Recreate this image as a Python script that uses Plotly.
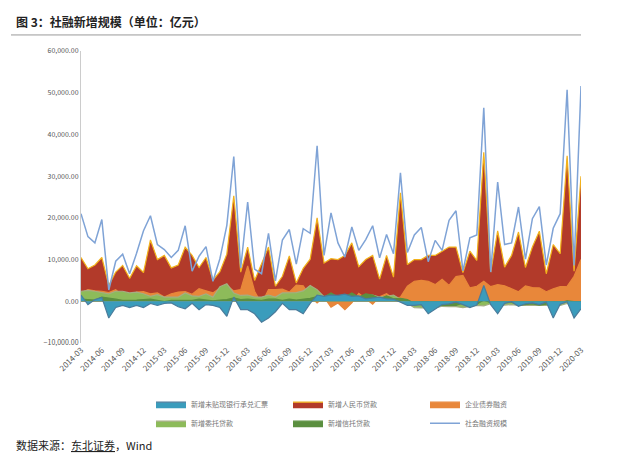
import plotly.graph_objects as go
import pandas as pd

months = [d.strftime("%Y-%m") for d in pd.date_range("2014-03-01", "2020-03-01", freq="MS")]
total = [21000,15500,14000,19600,2700,9600,11300,6600,11500,16900,
         20500,13600,12400,10500,12200,18100,7200,10800,13100,4800,10200,18200,
         34700,8000,23800,7700,6600,16300,4900,14700,17200,8900,17400,16300,
         37300,11000,21200,14000,10600,17800,12200,14800,18100,10400,16000,11400,
         30800,11700,15900,17700,9500,14600,12200,19400,21700,7300,15200,15900,
         46400,7000,28600,13600,14000,22600,10100,19800,22700,8700,17500,21000,
         50700,8600,51600]
loans = [10500,7800,8700,10500,3800,7000,8600,5500,8500,6900,
         14700,10000,11000,8000,8700,13000,11000,8100,10500,5100,7100,11300,
         25300,7000,13000,5000,9000,13000,3600,6000,10900,4400,7900,10100,
         20000,9200,10200,10000,11000,14000,8300,10000,11000,5300,11000,5800,
         26000,8800,10000,10000,11000,11000,12000,13000,13000,6900,12000,9800,
         35700,7000,16900,8200,11000,16600,8100,13000,16800,6600,13600,11400,
         34900,7200,30000]
bonds = [2000,2800,2500,2400,2100,2800,1300,1100,2200,2300,
         1800,2000,1000,1800,2200,2300,1700,3000,2500,2000,3200,3800,
         2500,2800,8500,2400,-600,2800,2800,2900,2200,3900,3700,1200,
         -400,1000,-1400,-400,-2000,-400,1900,500,-700,1100,1800,600,
         1000,3600,4800,5000,4800,4000,5300,3800,5900,6200,3200,3600,
         4800,3500,4000,3700,3000,2300,3700,3300,3200,2300,3000,3500,
         3600,6000,10000]
acceptance = [1500,-800,400,900,-4000,-1500,-1000,-1500,-1000,-1500,
              -500,-1000,-500,-400,-1300,-1800,-500,-2000,-800,-1000,-1500,-3600,
              1000,-2000,-2000,-3000,-5000,-4000,-2500,-500,-2000,-2000,-3000,-500,
              1500,1200,1500,1400,1700,1200,1300,600,800,1000,600,500,
              -200,-1000,-1000,-800,-3000,-2000,-800,-600,-200,-800,-1500,-900,
              3800,-800,-3000,-500,-100,-1200,-600,-400,-800,-200,-4000,-700,
              -100,-4000,-1800]
entrusted = [2400,2600,2400,2100,1800,2400,2400,2000,2200,1800,
             1200,1600,1000,1000,1000,2000,1300,1200,1800,1000,3500,4200,
             2000,1400,1500,1000,1000,1500,1000,2000,2000,2100,2500,3800,
             2800,1100,1700,1000,1500,1100,1000,1400,1500,1000,1200,1500,
             500,-600,-1500,-1600,-1500,-1600,-1200,-1300,-1300,-1500,-1200,-1000,
             -1100,-600,-800,-900,-800,-1000,-900,-1000,-1000,-1000,-1000,-1000,
             -500,-500,-600]
trust = [500,400,300,1000,800,500,200,200,300,400,
         500,200,-100,200,200,300,200,500,300,100,300,400,
         800,400,500,300,200,500,500,200,500,300,500,700,
         1100,1000,2000,1000,1000,2000,1000,1800,1500,600,1300,600,
         700,400,-500,-100,-100,-1000,-1000,-1000,-1000,-400,-500,-700,
         300,-400,-100,-200,-200,-900,-700,-600,-900,-700,-200,-300,
         100,-100,-100]

fig = go.Figure()
def area(y, name, fill, line, rank):
    fig.add_trace(go.Scatter(x=months, y=y, name=name, mode="lines", fill="tozeroy",
                             fillcolor=fill, line=dict(color=line, width=1.2), legendrank=rank))
area(loans, "新增人民币贷款", "#b23a2a", "#f2b21a", 2)
area(bonds, "企业债券融资", "#e8873a", "#e8873a", 3)
area(entrusted, "新增委托贷款", "#8dbb5a", "#a5ad82", 4)
area(trust, "新增信托贷款", "#5b8f3f", "#5b8f3f", 5)
area(acceptance, "新增未贴现银行承兑汇票", "#3a9cbc", "#4a7c9c", 1)
fig.add_trace(go.Scatter(x=months, y=total, name="社会融资规模", mode="lines",
                         line=dict(color="#7fa3d6", width=1.5), legendrank=6))

fig.update_layout(
    width=640, height=457, paper_bgcolor="white", plot_bgcolor="white",
    margin=dict(l=73, r=67, t=43, b=122, autoexpand=False),
    font=dict(family="Noto Sans CJK SC", size=9, color="#555"),
    xaxis=dict(type="category", tickvals=months[::3], tickangle=-45, tickfont=dict(size=8),
               showline=False, showgrid=False, ticks=""),
    yaxis=dict(range=[-10000, 60000], dtick=10000, tickformat=",.2f", tickfont=dict(size=7),
               showgrid=False, zeroline=True, zerolinecolor="#bbb", showline=True, linecolor="#ccc"),
    legend=dict(orientation="h", x=0.14, y=-0.16, xanchor="left", yanchor="top",
                entrywidth=92, font=dict(size=7, color="#777"), traceorder="normal"),
    showlegend=True,
)
fig.add_annotation(text="<b>图 3：社融新增规模（单位：亿元）</b>", xref="paper", yref="paper",
                   x=-0.135, y=1.10, xanchor="left", yanchor="middle", showarrow=False,
                   font=dict(size=12, color="#222", family="Noto Sans CJK SC"))
fig.add_shape(type="line", xref="paper", yref="paper", x0=-0.14, x1=1.0, y0=1.055, y1=1.055,
              line=dict(color="#999", width=1))
fig.add_annotation(text="数据来源：<u>东北证券</u>，Wind", xref="paper", yref="paper",
                   x=-0.135, y=-0.35, xanchor="left", yanchor="middle", showarrow=False,
                   font=dict(size=11, color="#222", family="Noto Sans CJK SC"))
fig.write_html("out.html")
